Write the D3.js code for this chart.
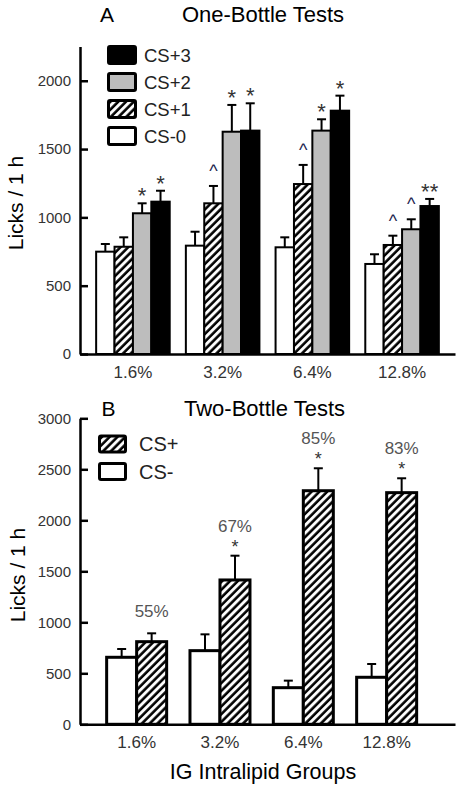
<!DOCTYPE html>
<html><head><meta charset="utf-8">
<script src="https://cdn.jsdelivr.net/npm/d3@7"></script>
<style>
body{margin:0;background:#fff}
svg{display:block}
text{font-family:"Liberation Sans",Arial,Helvetica,sans-serif}
</style>
</head><body>
<svg id="c" width="462" height="790"></svg>
<script>
// ---------- data ----------
const groups = ["1.6%", "3.2%", "6.4%", "12.8%"];
const yTicksA = [0, 500, 1000, 1500, 2000];
const yTicksB = [0, 500, 1000, 1500, 2000, 2500, 3000];

// Panel A: One-Bottle Tests (mean, SEM)
const seriesA = ["CS-0", "CS+1", "CS+2", "CS+3"];
const cs0Mean = [749, 793, 781, 659];
const cs0Sem  = [56, 102, 73, 71];
const cs1Mean = [785, 1103, 1244, 798];
const cs1Sem  = [69, 127, 140, 68];
const cs2Mean = [1030, 1627, 1635, 913];
const cs2Sem  = [73, 196, 83, 73];
const cs3Mean = [1115, 1635, 1781, 1083];
const cs3Sem  = [80, 200, 110, 52];
const cs0Mark = ["", "", "", ""];
const cs1Mark = ["", "^", "^", "^"];
const cs2Mark = ["*", "*", "*", "^"];
const cs3Mark = ["*", "*", "*", "**"];

// Panel B: Two-Bottle Tests
const seriesB = ["CS-", "CS+"];
const csMinusMean = [657, 722, 359, 461];
const csMinusSem  = [81, 160, 69, 130];
const csPlusMean  = [810, 1415, 2290, 2271];
const csPlusSem   = [82, 238, 220, 141];
const csPlusStar  = ["", "*", "*", "*"];
const csPlusPct   = ["55%", "67%", "85%", "83%"];

// ---------- drawing ----------
const svg = d3.select("#c");
const defs = svg.append("defs");
const pat = defs.append("pattern").attr("id", "hatch")
  .attr("patternUnits", "userSpaceOnUse").attr("width", 5.5).attr("height", 5.5)
  .attr("patternTransform", "rotate(45)");
pat.append("rect").attr("width", 5.5).attr("height", 5.5).attr("fill", "#fff");
pat.append("line").attr("x1", 1.5).attr("y1", 0).attr("x2", 1.5).attr("y2", 5.5)
  .attr("stroke", "#000").attr("stroke-width", 2.6);

const fillA = {"CS-0": "#fff", "CS+1": "url(#hatch)", "CS+2": "#bdbdbd", "CS+3": "#000"};
const fillB = {"CS-": "#fff", "CS+": "url(#hatch)"};
const fmt = d3.format("d");

function styleAxis(g, sw) {
  g.select(".domain").attr("stroke", "#000").attr("stroke-width", sw);
  g.selectAll(".tick line").attr("stroke", "#000").attr("stroke-width", sw);
}

// ===== Panel A =====
const yA = d3.scaleLinear().domain([0, 2250]).range([354, 46.6]);
const xA = d3.scaleBand().domain(groups).range([80, 455]).paddingInner(0.18).paddingOuter(0.18);
const x1A = d3.scaleBand().domain(seriesA).range([0, xA.bandwidth()]);

const dataA = [];
const meansA = [cs0Mean, cs1Mean, cs2Mean, cs3Mean];
const semsA = [cs0Sem, cs1Sem, cs2Sem, cs3Sem];
const marksA = [cs0Mark, cs1Mark, cs2Mark, cs3Mark];
groups.forEach((g, gi) => seriesA.forEach((s, si) => dataA.push({
  g, s, v: meansA[si][gi], e: semsA[si][gi], m: marksA[si][gi]
})));

const gA = svg.append("g");
const ebA = gA.selectAll(".ebA").data(dataA).join("g");
ebA.append("line")
  .attr("x1", d => xA(d.g) + x1A(d.s) + x1A.bandwidth() / 2)
  .attr("x2", d => xA(d.g) + x1A(d.s) + x1A.bandwidth() / 2)
  .attr("y1", d => yA(d.v)).attr("y2", d => yA(d.v + d.e))
  .attr("stroke", "#000").attr("stroke-width", 2);
ebA.append("line")
  .attr("x1", d => xA(d.g) + x1A(d.s) + x1A.bandwidth() / 2 - 4.5)
  .attr("x2", d => xA(d.g) + x1A(d.s) + x1A.bandwidth() / 2 + 4.5)
  .attr("y1", d => yA(d.v + d.e)).attr("y2", d => yA(d.v + d.e))
  .attr("stroke", "#000").attr("stroke-width", 2);
gA.selectAll(".barA").data(dataA).join("rect")
  .attr("x", d => xA(d.g) + x1A(d.s))
  .attr("y", d => yA(d.v))
  .attr("width", x1A.bandwidth())
  .attr("height", d => yA(0) - yA(d.v))
  .attr("fill", d => fillA[d.s])
  .attr("stroke", "#000").attr("stroke-width", 2);
gA.selectAll(".markA").data(dataA.filter(d => d.m)).join("text")
  .attr("x", d => xA(d.g) + x1A(d.s) + x1A.bandwidth() / 2)
  .attr("y", d => yA(d.v + d.e) - (d.m === "^" ? 9 : 0))
  .attr("text-anchor", "middle")
  .attr("font-size", d => d.m === "^" ? 18 : 22)
  .attr("fill", d => d.m === "^" ? "#1c2550" : "#333")
  .text(d => d.m);

const axYA = svg.append("g").attr("transform", "translate(80,0)")
  .call(d3.axisLeft(yA).tickValues(yTicksA).tickFormat(fmt).tickSizeInner(-8).tickSizeOuter(0).tickPadding(9));
styleAxis(axYA, 2.5);
axYA.selectAll("text").attr("font-size", 15).attr("fill", "#333");
const axXA = svg.append("g").attr("transform", "translate(0,354)")
  .call(d3.axisBottom(xA).tickSize(0).tickPadding(12));
styleAxis(axXA, 2.5);
axXA.selectAll("text").attr("font-size", 17).attr("fill", "#333");

svg.append("text").attr("x", 100).attr("y", 22).attr("font-size", 21).text("A");
svg.append("text").attr("x", 263).attr("y", 22).attr("font-size", 22).attr("text-anchor", "middle").text("One-Bottle Tests");
svg.append("text").attr("transform", "translate(23,203) rotate(-90)").attr("text-anchor", "middle")
  .attr("font-size", 21).text("Licks / 1 h");

// legend A
const legA = seriesA.slice().reverse();
legA.forEach((s, i) => {
  const cy = 55 + i * 27;
  svg.append("rect").attr("x", 108.5).attr("y", cy - 8.5).attr("width", 27).attr("height", 17)
    .attr("rx", 1.5).attr("fill", fillA[s]).attr("stroke", "#000").attr("stroke-width", 3);
  svg.append("text").attr("x", 144).attr("y", cy + 6.5).attr("font-size", 18.5).attr("fill", "#222").text(s);
});

// ===== Panel B =====
const yB = d3.scaleLinear().domain([0, 3000]).range([724.3, 418.3]);
const xB = d3.scaleBand().domain(groups).range([80, 455]).paddingInner(0.28).paddingOuter(0.39).align(0.41);
const x1B = d3.scaleBand().domain(seriesB).range([0, xB.bandwidth()]);

const dataB = [];
groups.forEach((g, gi) => {
  dataB.push({g, s: "CS-", v: csMinusMean[gi], e: csMinusSem[gi]});
  dataB.push({g, s: "CS+", v: csPlusMean[gi], e: csPlusSem[gi], star: csPlusStar[gi], pct: csPlusPct[gi]});
});

const gB = svg.append("g");
const ebB = gB.selectAll(".ebB").data(dataB).join("g");
ebB.append("line")
  .attr("x1", d => xB(d.g) + x1B(d.s) + x1B.bandwidth() / 2)
  .attr("x2", d => xB(d.g) + x1B(d.s) + x1B.bandwidth() / 2)
  .attr("y1", d => yB(d.v)).attr("y2", d => yB(d.v + d.e))
  .attr("stroke", "#000").attr("stroke-width", 2);
ebB.append("line")
  .attr("x1", d => xB(d.g) + x1B(d.s) + x1B.bandwidth() / 2 - 4.5)
  .attr("x2", d => xB(d.g) + x1B(d.s) + x1B.bandwidth() / 2 + 4.5)
  .attr("y1", d => yB(d.v + d.e)).attr("y2", d => yB(d.v + d.e))
  .attr("stroke", "#000").attr("stroke-width", 2);
gB.selectAll(".barB").data(dataB).join("rect")
  .attr("x", d => xB(d.g) + x1B(d.s))
  .attr("y", d => yB(d.v))
  .attr("width", x1B.bandwidth())
  .attr("height", d => yB(0) - yB(d.v))
  .attr("fill", d => fillB[d.s])
  .attr("stroke", "#000").attr("stroke-width", 3);
const plusB = dataB.filter(d => d.s === "CS+");
gB.selectAll(".starB").data(plusB.filter(d => d.star)).join("text")
  .attr("x", d => xB(d.g) + x1B(d.s) + x1B.bandwidth() / 2)
  .attr("y", d => yB(d.v + d.e) - 3)
  .attr("text-anchor", "middle").attr("font-size", 18).attr("fill", "#333")
  .text(d => d.star);
gB.selectAll(".pctB").data(plusB).join("text")
  .attr("x", d => xB(d.g) + x1B(d.s) + x1B.bandwidth() / 2)
  .attr("y", d => yB(d.v + d.e) - (d.star ? 24 : 16))
  .attr("text-anchor", "middle").attr("font-size", 17).attr("fill", "#555")
  .text(d => d.pct);

const axYB = svg.append("g").attr("transform", "translate(80,0)")
  .call(d3.axisLeft(yB).tickValues(yTicksB).tickFormat(fmt).tickSizeInner(-8).tickSizeOuter(0).tickPadding(9));
styleAxis(axYB, 2.5);
axYB.selectAll("text").attr("font-size", 15).attr("fill", "#333");
const axXB = svg.append("g").attr("transform", "translate(0,724.3)")
  .call(d3.axisBottom(xB).tickSize(0).tickPadding(12));
styleAxis(axXB, 2.5);
axXB.selectAll("text").attr("font-size", 17).attr("fill", "#333");

svg.append("text").attr("x", 101.5).attr("y", 416).attr("font-size", 21).text("B");
svg.append("text").attr("x", 264.5).attr("y", 416).attr("font-size", 22).attr("text-anchor", "middle").text("Two-Bottle Tests");
svg.append("text").attr("transform", "translate(25,575) rotate(-90)").attr("text-anchor", "middle")
  .attr("font-size", 21).text("Licks / 1 h");
svg.append("text").attr("x", 263).attr("y", 779).attr("font-size", 21.5).attr("text-anchor", "middle").text("IG Intralipid Groups");

// legend B
const legB = ["CS+", "CS-"];
legB.forEach((s, i) => {
  const cy = 444 + i * 27.5;
  svg.append("rect").attr("x", 99.5).attr("y", cy - 8).attr("width", 26).attr("height", 16)
    .attr("rx", 1.5).attr("fill", fillB[s]).attr("stroke", "#000").attr("stroke-width", 3);
  svg.append("text").attr("x", 139).attr("y", cy + 7).attr("font-size", 20).attr("fill", "#222").text(s);
});
</script>
</body></html>
